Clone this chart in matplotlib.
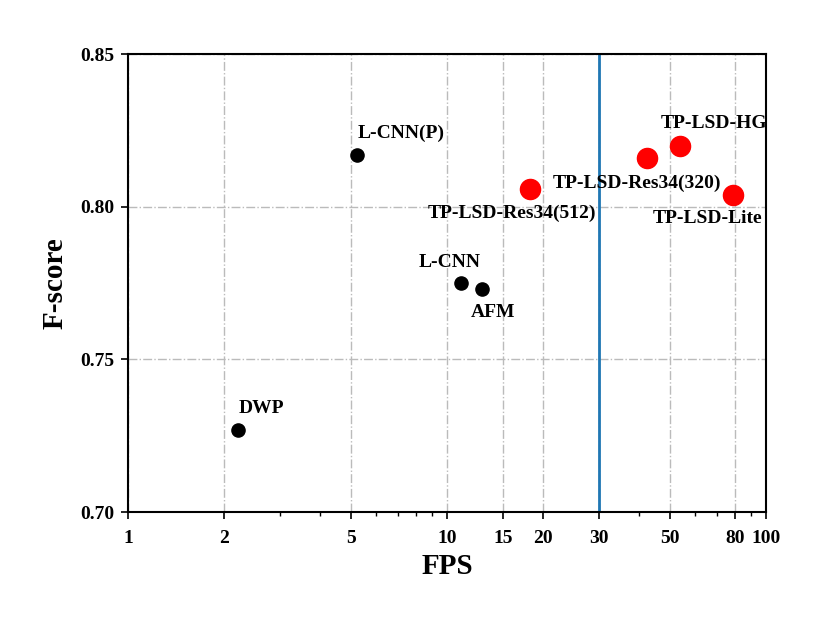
import numpy as np
import matplotlib.pyplot as plt
from matplotlib.ticker import FixedLocator, FixedFormatter, NullFormatter

plt.rcParams['font.family'] = ['Liberation Serif', 'DejaVu Serif']
plt.rcParams['font.weight'] = 'bold'

# data
black_names = ['DWP', 'L-CNN(P)', 'L-CNN', 'AFM']
black_fps = [2.21, 5.22, 11.1, 12.9]
black_f = [0.727, 0.817, 0.775, 0.773]

red_names = ['TP-LSD-Res34(512)', 'TP-LSD-Res34(320)', 'TP-LSD-HG', 'TP-LSD-Lite']
red_fps = [18.2, 42.4, 53.8, 78.8]
red_f = [0.806, 0.816, 0.820, 0.804]

x_ticks = [1, 2, 5, 10, 15, 20, 30, 50, 80, 100]
y_ticks = [0.70, 0.75, 0.80, 0.85]

# label offsets in pixels (dx, dy, ha)
offsets = {
    'DWP': (1, 21, 'left'),
    'L-CNN(P)': (1, 22, 'left'),
    'L-CNN': (-12, 21, 'center'),
    'AFM': (-11, -23, 'left'),
    'TP-LSD-Res34(512)': (-18, -25, 'center'),
    'TP-LSD-Res34(320)': (-10, -25, 'center'),
    'TP-LSD-HG': (34, 22, 'center'),
    'TP-LSD-Lite': (-26, -24, 'center'),
}

fig = plt.figure(figsize=(8.3, 6.23), dpi=100)
ax = fig.add_axes([0.154, 0.178, 0.769, 0.735])

ax.set_xscale('log')
ax.set_xlim(1, 100)
ax.set_ylim(0.70, 0.85)

ax.xaxis.set_major_locator(FixedLocator(x_ticks))
ax.xaxis.set_major_formatter(FixedFormatter([str(t) for t in x_ticks]))
ax.xaxis.set_minor_formatter(NullFormatter())
ax.set_yticks(y_ticks)
ax.set_yticklabels(['%.2f' % t for t in y_ticks])

ax.grid(True, which='major', color='#bbbbbb', linestyle='-.', linewidth=1.0)
ax.axvline(30, color='#1f77b4', linewidth=2, zorder=2)

ax.scatter(black_fps, black_f, s=90, color='black', zorder=3)
ax.scatter(red_fps, red_f, s=210, color='red', zorder=3)

for name, x, y in zip(black_names + red_names, black_fps + red_fps, black_f + red_f):
    dx, dy, ha = offsets[name]
    ax.annotate(name, (x, y), xytext=(dx, dy), textcoords='offset pixels',
                ha=ha, va='center', fontsize=14, fontweight='bold')

ax.tick_params(axis='both', which='major', labelsize=14, width=1.2, length=5, pad=5)
ax.tick_params(axis='x', which='major', pad=8)
ax.tick_params(axis='x', which='minor', width=1.0, length=3)
for lab in ax.get_xticklabels() + ax.get_yticklabels():
    lab.set_fontweight('bold')
for sp in ax.spines.values():
    sp.set_linewidth(1.5)

ax.set_xlabel('FPS', fontsize=21, fontweight='bold', labelpad=4)
ax.set_ylabel('F-score', fontsize=21, fontweight='bold', labelpad=8)

fig.savefig('out.png', dpi=100)
